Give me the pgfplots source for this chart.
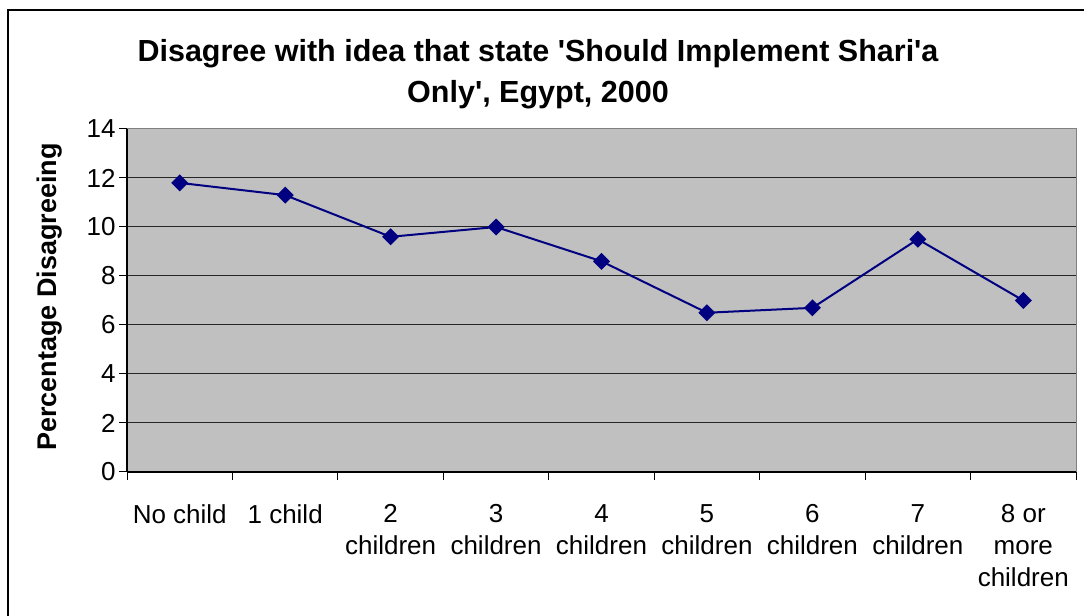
\documentclass[border=0pt]{standalone}
\usepackage{pgfplots}
\pgfplotsset{compat=1.18}
\usepackage{fontspec}
\setmainfont{Liberation Sans}
\definecolor{plotbg}{HTML}{C0C0C0}
\definecolor{navy}{HTML}{000080}
\begin{document}
\begin{tikzpicture}[x=1bp,y=1bp]
\useasboundingbox (0,0) rectangle (1084,616);
\draw[black, line width=1.2bp] (8,-10) rectangle (1095,606);
\node[font=\bfseries\fontsize{30.5bp}{40bp}\selectfont, anchor=base] at (538,554) {Disagree with idea that state \textquotesingle Should Implement Shari\textquotesingle a};
\node[font=\bfseries\fontsize{30.5bp}{40bp}\selectfont, anchor=base] at (538,513) {Only\textquotesingle, Egypt, 2000};
\node[font=\bfseries\fontsize{27bp}{32bp}\selectfont, rotate=90] at (50,319) {Percentage Disagreeing};
\begin{axis}[
  at={(127bp,144bp)}, anchor=south west,
  scale only axis, width=949bp, height=343bp,
  xmin=-0.5, xmax=8.5, ymin=0, ymax=14,
  axis background/.style={fill=plotbg},
  axis line style={draw=gray, line width=1bp},
  ytick={0,2,...,14},
  ymajorgrids, grid style={black!85, line width=1bp},
  xtick={-0.5,0.5,...,8.5},
  xticklabels={},
  xtick pos=bottom, ytick pos=left,
  extra x ticks={0,...,8},
  extra x tick labels={No child,1 child,2\\children,3\\children,4\\children,5\\children,6\\children,7\\children,8 or\\more\\children},
  extra x tick style={major tick style={draw=none}, grid=none,
    xticklabel style={align=center, font=\fontsize{26bp}{32bp}\selectfont, yshift=-21bp}},
  /pgf/number format/assume math mode=true,
  yticklabel style={font=\fontsize{26bp}{30bp}\selectfont},
  major tick length=8bp,
  tick align=outside,
  tick style={black, line width=1bp},
  clip=false,
]
\draw[black, line width=1.2bp] (axis cs:-0.5,0) -- (axis cs:-0.5,14);
\draw[black, line width=1.2bp] (axis cs:-0.5,0) -- (axis cs:8.5,0);
\addplot[navy, line width=2bp, mark=square*, mark size=5bp, mark options={fill=navy, rotate=45}] coordinates {
(0,11.8) (1,11.3) (2,9.6) (3,10.0) (4,8.6) (5,6.5) (6,6.7) (7,9.5) (8,7.0)
};
\end{axis}
\end{tikzpicture}
\end{document}
